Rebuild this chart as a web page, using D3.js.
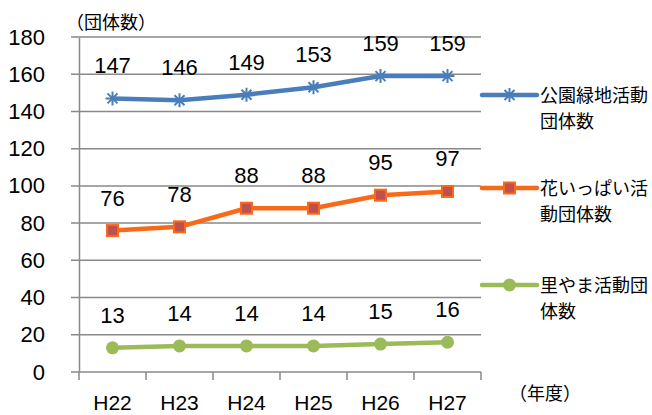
<!DOCTYPE html>
<html>
<head>
<meta charset="utf-8">
<script src="https://cdn.jsdelivr.net/npm/d3@7"></script>
<style>
body { margin: 0; background: #fff; }
text { font-family: "Liberation Sans", "Noto Sans CJK JP", sans-serif; fill: #000; }
.jp { font-family: "Noto Sans CJK JP", sans-serif; }
</style>
</head>
<body>
<script>
const width = 652;
const height = 415;

const margin = { left: 79, right: 171, top: 37, bottom: 43 };

// データ
const years = ["H22", "H23", "H24", "H25", "H26", "H27"];
const parkValues = [147, 146, 149, 153, 159, 159];
const flowerValues = [76, 78, 88, 88, 95, 97];
const satoyamaValues = [13, 14, 14, 14, 15, 16];
const yTicks = [0, 20, 40, 60, 80, 100, 120, 140, 160, 180];
const seriesNames = [["公園緑地活動", "団体数"], ["花いっぱい活", "動団体数"], ["里やま活動団", "体数"]];

const series = [
    { name: seriesNames[0], values: parkValues, color: "#4A7EBB", marker: "star" },
    { name: seriesNames[1], values: flowerValues, color: "#F86A1A", marker: "square" },
    { name: seriesNames[2], values: satoyamaValues, color: "#9BBB59", marker: "circle" }
];

let svg = d3.select("body").append("svg")
    .attr("width", width)
    .attr("height", height);

let xScale = d3.scaleBand()
    .domain(years)
    .range([margin.left, width - margin.right]);

let yScale = d3.scaleLinear()
    .domain([0, 180])
    .range([height - margin.bottom, margin.top]);

// グリッド
svg.append("g")
    .selectAll("line")
    .data(yTicks)
    .join("line")
    .attr("x1", margin.left - 8)
    .attr("x2", width - margin.right)
    .attr("y1", d => yScale(d))
    .attr("y2", d => yScale(d))
    .attr("stroke", "#898989")
    .attr("stroke-width", 1.5);

// y軸
let yAxis = svg.append("g")
    .attr("transform", `translate(${margin.left},0)`)
    .call(d3.axisLeft(yScale).tickValues(yTicks).tickSize(0).tickPadding(34));
yAxis.select(".domain").attr("stroke", "#898989").attr("stroke-width", 1.5);
yAxis.selectAll("text").style("font-size", "22px");

// x軸
let xAxis = svg.append("g")
    .attr("transform", `translate(0,${height - margin.bottom})`)
    .call(d3.axisBottom(xScale).tickSize(0).tickPadding(23));
xAxis.select(".domain").remove();
xAxis.selectAll("text").style("font-size", "21px");

let tickXs = years.map(d => xScale(d)).concat([width - margin.right]);
xAxis.selectAll(".xtick")
    .data(tickXs)
    .join("line")
    .attr("class", "xtick")
    .attr("x1", d => d).attr("x2", d => d)
    .attr("y1", 0).attr("y2", 8)
    .attr("stroke", "#898989")
    .attr("stroke-width", 1.5);

svg.append("text")
    .attr("class", "jp")
    .attr("x", 66)
    .attr("y", 29)
    .style("font-size", "18px")
    .text("（団体数）");

svg.append("text")
    .attr("class", "jp")
    .attr("x", 509)
    .attr("y", 400)
    .style("font-size", "18px")
    .text("（年度）");

let line = d3.line()
    .x((d, i) => xScale(years[i]) + xScale.bandwidth() / 2)
    .y(d => yScale(d));

function drawMarker(g, type, color) {
    if (type === "star") {
        g.append("path")
            .attr("d", "M-7,0L7,0M0,-7L0,7M-5,-5L5,5M-5,5L5,-5")
            .attr("stroke", color)
            .attr("stroke-width", 2)
            .attr("fill", "none");
    } else if (type === "square") {
        g.append("rect")
            .attr("x", -5.5).attr("y", -5.5)
            .attr("width", 11).attr("height", 11)
            .attr("fill", "#C0504D")
            .attr("stroke", color)
            .attr("stroke-width", 2);
    } else {
        g.append("circle")
            .attr("r", 6.5)
            .attr("fill", color);
    }
}

series.forEach((s, k) => {
    svg.append("path")
        .datum(s.values)
        .attr("d", line)
        .attr("fill", "none")
        .attr("stroke", s.color)
        .attr("stroke-width", 4.5)
        .attr("stroke-linejoin", "round");

    s.values.forEach((v, i) => {
        let g = svg.append("g")
            .attr("transform", `translate(${xScale(years[i]) + xScale.bandwidth() / 2},${yScale(v)})`);
        drawMarker(g, s.marker, s.color);
        svg.append("text")
            .attr("x", xScale(years[i]) + xScale.bandwidth() / 2)
            .attr("y", yScale(v) - 25)
            .attr("text-anchor", "middle")
            .style("font-size", "22px")
            .text(v);
    });

    // 凡例
    let ly = [95, 188, 285][k];
    let lg = svg.append("g").attr("transform", `translate(0,${ly})`);
    lg.append("line")
        .attr("x1", 482).attr("x2", 537)
        .attr("y1", 0).attr("y2", 0)
        .attr("stroke", s.color)
        .attr("stroke-width", 4.5)
        .attr("stroke-linecap", "round");
    let mg = lg.append("g").attr("transform", "translate(509.5,0)");
    drawMarker(mg, s.marker, s.color);
    lg.selectAll("text")
        .data(s.name)
        .join("text")
        .attr("class", "jp")
        .attr("x", 540)
        .attr("y", (d, j) => 7 + j * 26)
        .style("font-size", "18px")
        .text(d => d);
});
</script>
</body>
</html>
